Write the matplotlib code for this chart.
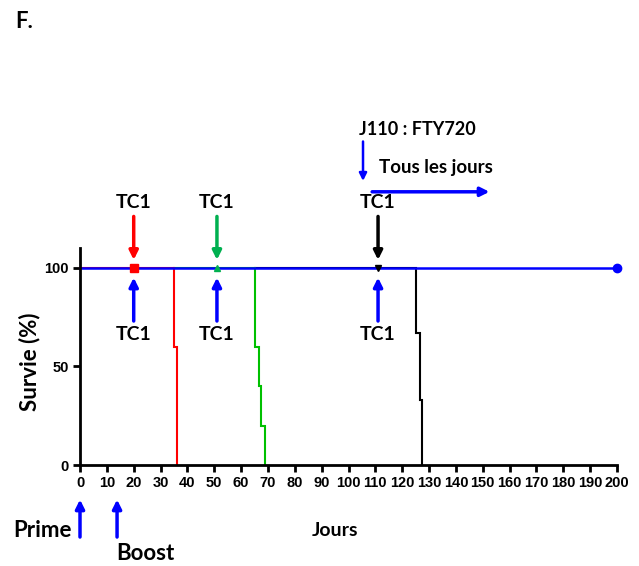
import matplotlib
matplotlib.use("Agg")
import matplotlib.pyplot as plt

# Data (Kaplan-Meier step curves)
red_t = [0, 35, 36]
red_s = [100, 60, 0]
green_t = [35, 65, 66.5, 67.5, 69]
green_s = [100, 60, 40, 20, 0]
black_t = [65, 125, 126.5, 127.5]
black_s = [100, 67, 33, 0]
blue_t = [0, 200]
blue_s = [100, 100]

tc1_days = [20, 51, 111]
tc1_colors = ["#ff0000", "#00b050", "#000000"]
tc1_markers = ["s", "^", "v"]

xticks = list(range(0, 201, 10))
yticks = [0, 50, 100]

BLUE = "#0000ff"
TXT = ["Lato", "DejaVu Sans"]

fig = plt.figure(figsize=(6.39, 5.66), dpi=100)
ax = fig.add_axes([0.1252, 0.1784, 0.8404, 0.3834])

def step(ax, t, s, color, lw=1.5, end=None):
    xs, ys = [t[0]], [s[0]]
    for i in range(1, len(t)):
        xs += [t[i], t[i]]
        ys += [s[i-1], s[i]]
    if end is not None:
        xs.append(end); ys.append(s[-1])
    ax.plot(xs, ys, color=color, lw=lw, solid_joinstyle="miter", clip_on=False)

step(ax, black_t, black_s, "#000000", lw=1.5)
step(ax, green_t, green_s, "#00c000", lw=1.5)
step(ax, red_t, red_s, "#ff0000", lw=1.5)
ax.plot(blue_t, blue_s, color=BLUE, lw=1.8, clip_on=False)
ax.plot([blue_t[-1]], [blue_s[-1]], "o", color=BLUE, ms=6, clip_on=False)

for d, c, m in zip(tc1_days, tc1_colors, tc1_markers):
    ax.plot([d], [100], m, color=c, ms=6 if m == "s" else 5, clip_on=False)

ax.set_xlim(0, 200)
ax.set_ylim(0, 110)
ax.set_xticks(xticks)
ax.set_yticks(yticks)
for s in ["top", "right"]:
    ax.spines[s].set_visible(False)
for s in ["left", "bottom"]:
    ax.spines[s].set_linewidth(2)
ax.tick_params(direction="out", length=5, width=2, pad=3)
for lab in ax.get_xticklabels() + ax.get_yticklabels():
    lab.set_fontfamily("Liberation Sans")
    lab.set_fontweight("bold")
    lab.set_fontsize(10.5)

arw = dict(arrowstyle="-|>", lw=2.5, mutation_scale=13, shrinkA=0, shrinkB=0)

# TC1 arrows above (colored, pointing down) and below (blue, pointing up)
for d, c in zip(tc1_days, tc1_colors):
    ax.annotate("", xy=(d, 104), xytext=(d, 126), annotation_clip=False,
                arrowprops=dict(arw, color=c))
    ax.text(d, 133, "TC1", ha="center", va="center", fontsize=14,
            fontweight="bold", family=TXT, clip_on=False)
    ax.annotate("", xy=(d, 95), xytext=(d, 73), annotation_clip=False,
                arrowprops=dict(arw, color=BLUE))
    ax.text(d, 66, "TC1", ha="center", va="center", fontsize=14,
            fontweight="bold", family=TXT, clip_on=False)

# FTY720 annotation
ax.text(104, 170, "J110 : FTY720", ha="left", va="center", fontsize=13,
        fontweight="bold", family=TXT, clip_on=False)
ax.annotate("", xy=(105.4, 144), xytext=(105.4, 164), annotation_clip=False,
            arrowprops=dict(arrowstyle="-|>", lw=1.8, mutation_scale=11,
                            shrinkA=0, shrinkB=0, color=BLUE))
ax.text(111.5, 151, "Tous les jours", ha="left", va="center", fontsize=13.5,
        fontweight="bold", family=TXT, clip_on=False)
ax.annotate("", xy=(152.5, 138.5), xytext=(108.8, 138.5), annotation_clip=False,
            arrowprops=dict(arw, color=BLUE))

# Prime / Boost
for d in [0, 13.8]:
    ax.annotate("", xy=(d, -17.5), xytext=(d, -36.5), annotation_clip=False,
                arrowprops=dict(arw, color=BLUE))
ax.text(-13.8, -33, "Prime", ha="center", va="center", fontsize=16,
        fontweight="bold", family=TXT, clip_on=False)
ax.text(24.2, -44.7, "Boost", ha="center", va="center", fontsize=16,
        fontweight="bold", family=TXT, clip_on=False)
ax.text(95, -33, "Jours", ha="center", va="center", fontsize=14,
        fontweight="bold", family=TXT, clip_on=False)

fig.text(30/639, 1-362/566, "Survie (%)", rotation=90, ha="center", va="center",
         fontsize=16, fontweight="bold", family=TXT)
fig.text(15/639, 1-22/566, "F.", ha="left", va="center", fontsize=16,
         fontweight="bold", family=TXT)

fig.savefig("out.png", dpi=100)
